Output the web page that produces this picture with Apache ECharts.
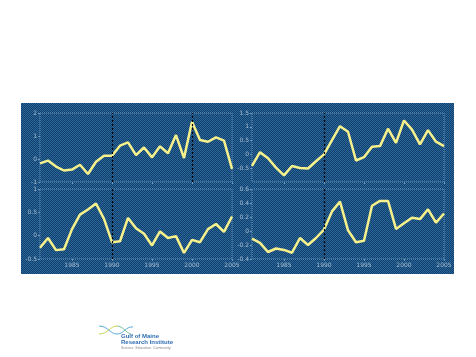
<!DOCTYPE html>
<html>
<head>
<meta charset="utf-8">
<script src="https://cdn.jsdelivr.net/npm/echarts@6/dist/echarts.min.js"></script>
<style>html,body{margin:0;padding:0;background:#fff}#c{width:476px;height:357px}</style>
</head>
<body>
<div id="c"></div>
<script>
const years = [1981,1982,1983,1984,1985,1986,1987,1988,1989,1990,1991,1992,1993,1994,1995,1996,1997,1998,1999,2000,2001,2002,2003,2004,2005];
const xTicks = [1985,1990,1995,2000,2005];
const seriesTL = [-0.19,-0.07,-0.33,-0.5,-0.46,-0.25,-0.65,-0.12,0.14,0.14,0.58,0.72,0.17,0.5,0.07,0.55,0.25,1.04,0.04,1.62,0.83,0.75,0.94,0.8,-0.43];
const seriesTR = [-0.42,0.08,-0.14,-0.48,-0.76,-0.42,-0.49,-0.51,-0.25,0.0,0.52,1.02,0.82,-0.22,-0.1,0.28,0.3,0.93,0.42,1.23,0.9,0.36,0.88,0.46,0.3];
const seriesBL = [-0.26,-0.05,-0.31,-0.29,0.14,0.45,0.56,0.69,0.36,-0.14,-0.12,0.38,0.16,0.04,-0.21,0.09,-0.05,-0.01,-0.37,-0.09,-0.14,0.14,0.25,0.08,0.41];
const seriesBR = [-0.11,-0.17,-0.3,-0.25,-0.27,-0.31,-0.1,-0.2,-0.1,0.02,0.28,0.42,0.01,-0.16,-0.14,0.36,0.43,0.43,0.03,0.11,0.19,0.17,0.31,0.12,0.25];
const markYearsTL = [1990, 2000];
const markYearsOther = [1990];
const yTL = {min:-1, max:2, interval:1};
const yTR = {min:-1, max:1.5, interval:0.5};
const yBL = {min:-0.5, max:1, interval:0.5};
const yBR = {min:-0.4, max:0.6, interval:0.2};

const chart = echarts.init(document.getElementById('c'), null, {renderer:'canvas'});

// checker pattern for background
const pc = document.createElement('canvas');
pc.width = 2; pc.height = 2;
const pctx = pc.getContext('2d');
pctx.fillStyle = '#113f6b'; pctx.fillRect(0,0,2,2);
pctx.fillStyle = '#2b679a'; pctx.fillRect(0,0,1,1); pctx.fillRect(1,1,1,1);

const labelColor = '#a9bdd0';
const frameColor = '#6f98bd';
const grids = [
  {left:40, top:113, width:192, height:69},
  {left:252, top:113, width:192, height:69},
  {left:40, top:189, width:192, height:70},
  {left:252, top:189, width:192, height:70}
].map(g => Object.assign(g, {show:true, backgroundColor:'transparent', borderColor:frameColor, borderWidth:1, borderType:'dotted'}));

function xAx(i, showLabels) {
  return {
    type:'value', gridIndex:i, min:1981, max:2005,
    axisLine:{show:false, onZero:false},
    axisTick:{show:true, customValues:xTicks, length:2, inside:false, lineStyle:{color:frameColor}},
    axisLabel:{show:showLabels, customValues:xTicks, color:labelColor, fontSize:6, margin:3, fontFamily:'DejaVu Sans', formatter: v => String(v)},
    splitLine:{show:false}
  };
}
function yAx(i, cfg, hideMin) {
  return {
    type:'value', gridIndex:i, min:cfg.min, max:cfg.max, interval:cfg.interval,
    axisLine:{show:false, onZero:false},
    axisTick:{show:true, length:2, lineStyle:{color:frameColor}},
    axisLabel:{color:labelColor, fontSize:6, margin:3, fontFamily:'DejaVu Sans', showMinLabel:!hideMin,
      formatter: v => String(Math.round(v*10)/10)},
    splitLine:{show:false}
  };
}
function lineSeries(i, vals, marks) {
  return {
    type:'line', xAxisIndex:i, yAxisIndex:i,
    data: years.map((y,k)=>[y, vals[k]]),
    showSymbol:false, symbol:'none',
    lineStyle:{color:'#f7f18c', width:2.5},
    z:3,
    markLine:{
      silent:true, symbol:['none','none'], label:{show:false},
      lineStyle:{color:'#000', type:[2,2], width:1.2},
      data: marks.map(m=>({xAxis:m}))
    }
  };
}

chart.setOption({
  animation:false,
  backgroundColor:'#ffffff',
  graphic:[
    {type:'rect', shape:{x:21, y:103, width:433, height:171}, style:{fill:{image:pc, repeat:'repeat'}}, z:-10, silent:true},
    // logo
    {type:'bezierCurve', shape:{x1:99, y1:326, cpx1:108, cpy1:326, cpx2:110, cpy2:334, x2:117, y2:334}, style:{stroke:'#5aa9d6', lineWidth:1, fill:null}, z:5},
    {type:'bezierCurve', shape:{x1:99, y1:334, cpx1:108, cpy1:334, cpx2:110, cpy2:326, x2:117, y2:326}, style:{stroke:'#c9d651', lineWidth:1, fill:null}, z:5},
    {type:'bezierCurve', shape:{x1:117, y1:334, cpx1:124, cpy1:334, cpx2:126, cpy2:326, x2:133, y2:327}, style:{stroke:'#5aa9d6', lineWidth:1, fill:null}, z:5},
    {type:'bezierCurve', shape:{x1:117, y1:326, cpx1:123, cpy1:326, cpx2:126, cpy2:333, x2:131, y2:334}, style:{stroke:'#7dc3a0', lineWidth:1, fill:null}, z:5},
    {type:'text', left:121, top:333, style:{text:'Gulf of Maine', fill:'#2f6eb3', font:'bold 6px Liberation Sans'}, z:5},
    {type:'text', left:121, top:339, style:{text:'Research Institute', fill:'#2f6eb3', font:'bold 6px Liberation Sans'}, z:5},
    {type:'text', left:121, top:346, style:{text:'Science. Education. Community.', fill:'#888888', font:'3.5px Liberation Sans'}, z:5}
  ],
  grid: grids,
  xAxis:[xAx(0,false), xAx(1,false), xAx(2,true), xAx(3,true)],
  yAxis:[yAx(0,yTL,false), yAx(1,yTR,true), yAx(2,yBL,false), yAx(3,yBR,false)],
  series:[
    lineSeries(0, seriesTL, markYearsTL),
    lineSeries(1, seriesTR, markYearsOther),
    lineSeries(2, seriesBL, markYearsOther),
    lineSeries(3, seriesBR, markYearsOther)
  ]
});
</script>
</body>
</html>
